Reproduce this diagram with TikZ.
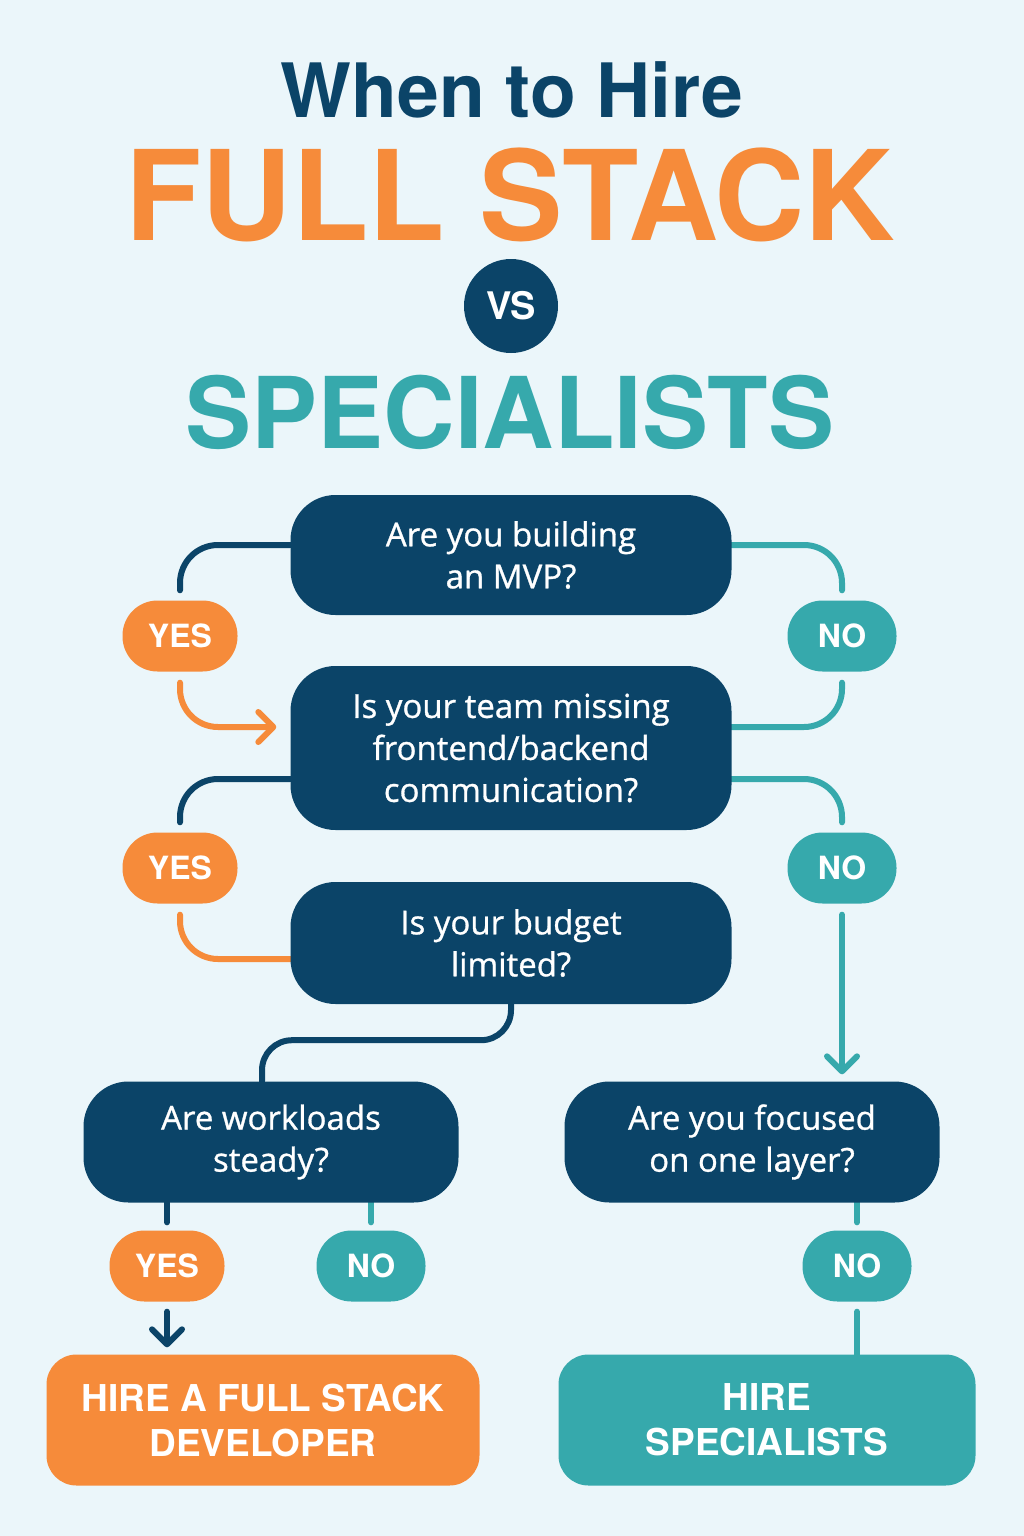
\documentclass[tikz,border=0pt]{standalone}
\usepackage{fontspec}
\setmainfont{Open Sans}
\newfontfamily\headfont{TeX Gyre Heros}
\newfontfamily\askfont[FakeBold=0.9]{Open Sans}
\usepackage{tikz}
\usetikzlibrary{arrows.meta}
\pgfdeclarelayer{bglayer}
\pgfdeclarelayer{edgelayer}
\pgfdeclarelayer{nodelayer}
\pgfsetlayers{bglayer,edgelayer,nodelayer,main}
\definecolor{bgblue}{HTML}{EBF6FA}
\definecolor{navy}{HTML}{0B4468}
\definecolor{orng}{HTML}{F68B3A}
\definecolor{tealc}{HTML}{36A9AC}
\tikzstyle{question}=[rectangle, rounded corners=45pt, fill=navy, text=white, minimum width=441pt, minimum height=120pt, align=center, font=\askfont\fontsize{33}{42}\selectfont]
\tikzstyle{pill}=[rectangle, rounded corners=35pt, text=white, minimum height=71pt, font=\headfont\bfseries\fontsize{32}{32}\selectfont]
\tikzstyle{pillyes}=[pill, fill=orng, minimum width=115pt]
\tikzstyle{pillno}=[pill, fill=tealc, minimum width=109pt]
\tikzstyle{result}=[rectangle, rounded corners=30pt, text=white, minimum height=131pt, align=center, font=\headfont\bfseries\fontsize{37}{45}\selectfont]
\tikzstyle{link}=[line width=6pt, line cap=round, rounded corners=38pt]
\tikzstyle{chevron}=[-{Straight Barb[length=15pt,width=30pt,line cap=round,line join=round]}]

\begin{document}
\begin{tikzpicture}[x=1pt, y=-1pt]
    \begin{pgfonlayer}{bglayer}
        \fill[bgblue] (0,0) rectangle (1024,1536);
    \end{pgfonlayer}
    \useasboundingbox (0,0) rectangle (1024,1536);
    % title
    \node [anchor=base, text=navy, font=\headfont\bfseries\fontsize{75}{75}\selectfont] (when) at (512, 118) {When to Hire};
    \node [anchor=base, text=orng, font=\headfont\bfseries\fontsize{125}{125}\selectfont] (fullstack) at (510, 240) {FULL STACK};
    \node [circle, fill=navy, text=white, minimum size=94pt, inner sep=0pt, font=\headfont\bfseries\fontsize{38}{38}\selectfont] (vs) at (511, 306) {VS};
    \node [anchor=base, text=tealc, font=\headfont\bfseries\fontsize{99}{99}\selectfont] (specs) at (510, 448) {SPECIALISTS};
    \begin{pgfonlayer}{nodelayer}
        \node [style=question] (mvp) at (511, 555) {Are you building\\an MVP?};
        \node [style=question, minimum height=164pt] (team) at (511, 748) {Is your team missing\\frontend/backend\\communication?};
        \node [style=question, minimum height=122pt] (budget) at (511, 943) {Is your budget\\limited?};
        \node [style=question, minimum width=375pt, minimum height=121pt] (workload) at (271, 1142) {Are workloads\\steady?};
        \node [style=question, minimum width=375pt, minimum height=121pt] (focus) at (752, 1142) {Are you focused\\on one layer?};
        \node [style=pillyes] (yesA) at (180, 636) {YES};
        \node [style=pillno] (noA) at (842, 636) {NO};
        \node [style=pillyes] (yesB) at (180, 868) {YES};
        \node [style=pillno] (noB) at (842, 868) {NO};
        \node [style=pillyes] (yesC) at (167, 1266) {YES};
        \node [style=pillno] (noC) at (371, 1266) {NO};
        \node [style=pillno] (noD) at (857, 1266) {NO};
        \node [style=result, fill=orng, minimum width=433pt] (hirefull) at (263, 1420) {HIRE A FULL STACK\\DEVELOPER};
        \node [style=result, fill=tealc, minimum width=417pt] (hirespec) at (767, 1420) {HIRE\\SPECIALISTS};
    \end{pgfonlayer}
    \begin{pgfonlayer}{edgelayer}
        \draw [style=link, navy, shorten >=10pt] ([yshift=10pt]mvp.west) -| (yesA.north);
        \draw [style=link, tealc, shorten >=10pt] ([yshift=10pt]mvp.east) -| (noA.north);
        \draw [style=link, style=chevron, orng, shorten <=11pt, shorten >=14pt] (yesA.south) |- ([yshift=21pt]team.west);
        \draw [style=link, tealc, shorten <=11pt] (noA.south) |- ([yshift=21pt]team.east);
        \draw [style=link, navy, shorten >=10pt] ([yshift=-31pt]team.west) -| (yesB.north);
        \draw [style=link, tealc, shorten >=10pt] ([yshift=-31pt]team.east) -| (noB.north);
        \draw [style=link, orng, shorten <=11pt] (yesB.south) |- ([yshift=-16pt]budget.west);
        \draw [style=link, style=chevron, tealc, shorten <=11pt, shorten >=7pt] (noB.south) -- (noB.south |- focus.north);
        \draw [style=link, navy, rounded corners=30pt] (budget.south) -- ++(0, 36) -| ([xshift=-9pt]workload.north);
        \draw [style=link, navy, shorten >=8pt] (yesC.north |- workload.south) -- (yesC.north);
        \draw [style=link, tealc, shorten >=8pt] (noC.north |- workload.south) -- (noC.north);
        \draw [style=link, tealc, shorten >=8pt] (noD.north |- focus.south) -- (noD.north);
        \draw [style=link, style=chevron, navy, shorten <=10pt, shorten >=7pt] (yesC.south) -- (yesC.south |- hirefull.north);
        \draw [style=link, tealc, shorten <=10pt] (noD.south) -- (noD.south |- hirespec.north);
    \end{pgfonlayer}
\end{tikzpicture}
\end{document}
